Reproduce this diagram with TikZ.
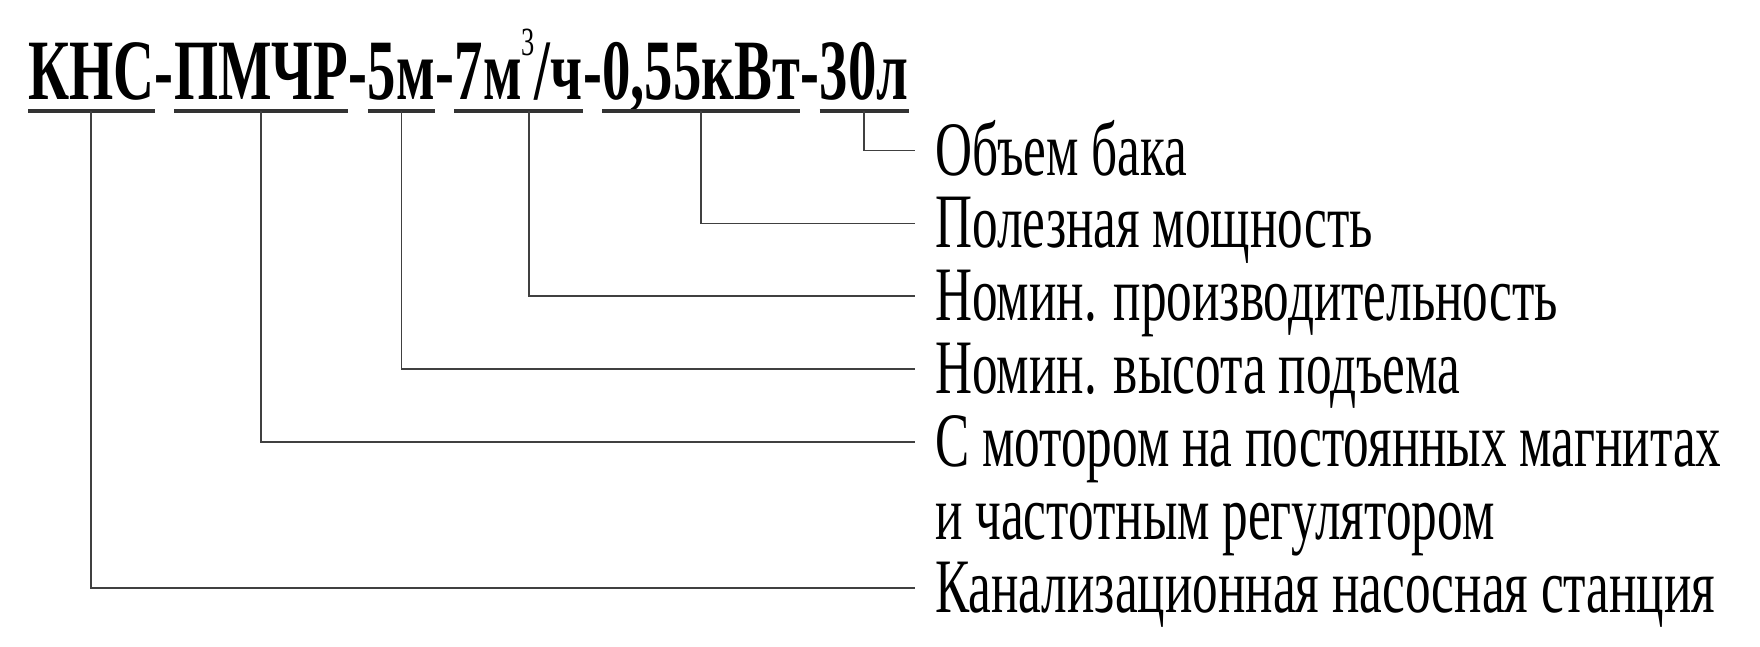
\documentclass[tikz,border=0pt]{standalone}
\usepackage{fontspec}
\setmainfont{Liberation Serif}
\newfontfamily\codefont{Liberation Serif}[FakeStretch=0.66]
\newfontfamily\lblfont{Liberation Serif}[FakeStretch=0.665]
\usetikzlibrary{positioning}

\begin{document}
\begin{tikzpicture}[x=1pt,y=-1pt]
			\tikzstyle{code} = [inner sep=0pt, font=\codefont\bfseries\fontsize{86}{90}\selectfont]
			\tikzstyle{lbl} = [inner sep=0pt, anchor=base west, text height=52pt, text depth=3pt, font=\lblfont\fontsize{77}{80}\selectfont]
			\tikzstyle{uline} = [draw, line width=3.5pt, black!80]
			\tikzstyle{conn} = [draw, line width=1.8pt, black!75, shorten >=20pt]

			\useasboundingbox (0,0) rectangle (1760,646);

			% marking
			\node [code, anchor=base west] (kns) at (28,99) {КНС};
			\node [code, base right=0pt of kns] (d1) {-};
			\node [code, base right=0pt of d1] (pmchr) {ПМЧР};
			\node [code, base right=0pt of pmchr] (d2) {-};
			\node [code, base right=0pt of d2] (lift) {5м};
			\node [code, base right=0pt of lift] (d3) {-};
			\node [code, base right=0pt of d3] (flow) {7м\raisebox{44pt}{\mdseries\fontsize{40}{40}\selectfont 3}/ч};
			\node [code, base right=0pt of flow] (d4) {-};
			\node [code, base right=0pt of d4] (power) {0,55кВт};
			\node [code, base right=0pt of power] (d5) {-};
			\node [code, base right=0pt of d5] (tank) {30л};

			\foreach \n in {kns,pmchr,lift,flow,power,tank}
				\path[uline] ([yshift=-12pt]\n.base west) -- ([yshift=-12pt]\n.base east);

			% labels
			\node [lbl] (tanklbl) at (935,175) {Объем бака};
			\node [lbl, below=17.5pt of tanklbl.south west, anchor=north west] (powerlbl) {Полезная мощность};
			\node [lbl, below=17.5pt of powerlbl.south west, anchor=north west] (flowlbl) {Номин. производительность};
			\node [lbl, below=17.5pt of flowlbl.south west, anchor=north west] (liftlbl) {Номин. высота подъема};
			\node [lbl, below=17.5pt of liftlbl.south west, anchor=north west] (pmchrlbl) {С мотором на постоянных магнитах};
			\node [lbl, below=17.5pt of pmchrlbl.south west, anchor=north west] (pmchrlbl2) {и частотным регулятором};
			\node [lbl, below=17.5pt of pmchrlbl2.south west, anchor=north west] (knslbl) {Канализационная насосная станция};

			\path[conn] ([yshift=-12pt]tank.base) |- (tanklbl.west);
			\path[conn] ([yshift=-12pt]power.base) |- (powerlbl.west);
			\path[conn] ([xshift=10pt,yshift=-12pt]flow.base) |- (flowlbl.west);
			\path[conn] ([yshift=-12pt]lift.base) |- (liftlbl.west);
			\path[conn] ([yshift=-12pt]pmchr.base) |- (pmchrlbl.west);
			\path[conn] ([yshift=-12pt]kns.base) |- (knslbl.west);
\end{tikzpicture}
\end{document}
